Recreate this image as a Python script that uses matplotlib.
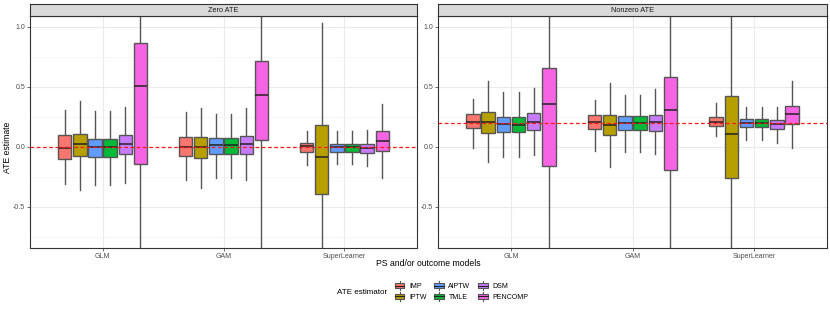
import numpy as np
import matplotlib
matplotlib.use("Agg")
import matplotlib.pyplot as plt
from matplotlib.patches import Patch, Rectangle
from matplotlib.lines import Line2D

plt.rcParams['font.family'] = ['Liberation Sans', 'DejaVu Sans']

models = ["GLM", "GAM", "SuperLearner"]
estimators = ["IMP", "IPTW", "AIPTW", "TMLE", "DSM", "PENCOMP"]
colors = ["#F8766D", "#B79F00", "#619CFF", "#00BA38", "#C77CFF", "#F564E3"]
panels = ["Zero ATE", "Nonzero ATE"]
true_ate = [0.0, 0.2]

# box stats, rows = models, cols = estimators
zero_whislo = [[-0.31, -0.36, -0.32, -0.32, -0.30, -1.5],
               [-0.28, -0.34, -0.26, -0.26, -0.28, -1.5],
               [-0.15, -1.5, -0.14, -0.14, -0.16, -0.26]]
zero_q1 = [[-0.10, -0.075, -0.083, -0.083, -0.06, -0.144],
           [-0.08, -0.09, -0.058, -0.058, -0.064, 0.053],
           [-0.044, -0.397, -0.044, -0.042, -0.05, -0.036]]
zero_med = [[-0.011, 0.02, 0.0, 0.0, 0.025, 0.503],
            [0.0, 0.0, 0.015, 0.014, 0.02, 0.43],
            [0.006, -0.086, -0.005, -0.003, -0.008, 0.044]]
zero_q3 = [[0.095, 0.103, 0.067, 0.067, 0.10, 0.867],
           [0.08, 0.08, 0.075, 0.075, 0.09, 0.71],
           [0.028, 0.18, 0.025, 0.025, 0.025, 0.128]]
zero_whishi = [[0.307, 0.377, 0.30, 0.30, 0.33, 1.5],
               [0.29, 0.32, 0.27, 0.27, 0.325, 1.5],
               [0.13, 1.03, 0.13, 0.13, 0.14, 0.353]]

nonzero_whislo = [[-0.008, -0.125, -0.089, -0.086, -0.072, -1.5],
                  [-0.039, -0.167, -0.042, -0.042, -0.061, -1.5],
                  [0.086, -1.5, 0.058, 0.058, 0.028, -0.014]]
nonzero_q1 = [[0.153, 0.114, 0.12, 0.12, 0.139, -0.164],
              [0.147, 0.094, 0.136, 0.136, 0.131, -0.197],
              [0.172, -0.261, 0.161, 0.161, 0.147, 0.189]]
nonzero_med = [[0.205, 0.203, 0.186, 0.183, 0.208, 0.353],
               [0.205, 0.183, 0.20, 0.20, 0.203, 0.303],
               [0.205, 0.108, 0.20, 0.20, 0.186, 0.27]]
nonzero_q3 = [[0.27, 0.289, 0.25, 0.25, 0.28, 0.656],
              [0.267, 0.264, 0.258, 0.258, 0.267, 0.58],
              [0.25, 0.42, 0.233, 0.233, 0.225, 0.336]]
nonzero_whishi = [[0.397, 0.547, 0.456, 0.456, 0.49, 1.5],
                  [0.39, 0.528, 0.433, 0.433, 0.478, 1.5],
                  [0.364, 1.5, 0.333, 0.333, 0.33, 0.547]]

panel_data = [
    (zero_whislo, zero_q1, zero_med, zero_q3, zero_whishi),
    (nonzero_whislo, nonzero_q1, nonzero_med, nonzero_q3, nonzero_whishi),
]


class BoxKey:
    """legend key that looks like a tiny boxplot (ggplot style)"""
    def legend_artist(self, legend, orig_handle, fontsize, handlebox):
        x0, y0 = -handlebox.xdescent, -handlebox.ydescent
        w, h = handlebox.width, handlebox.height
        fc = orig_handle.get_facecolor()
        bx, bw_ = x0 + w * 0.1, w * 0.8
        by, bh = y0 + h * 0.2, h * 0.6
        tr = handlebox.get_transform()
        arts = [
            Line2D([x0 + w / 2] * 2, [y0, by], color='#555555', lw=0.8, transform=tr),
            Line2D([x0 + w / 2] * 2, [by + bh, y0 + h], color='#555555', lw=0.8, transform=tr),
            Rectangle((bx, by), bw_, bh, facecolor=fc, edgecolor='#555555', lw=0.8, transform=tr),
            Line2D([bx, bx + bw_], [y0 + h / 2] * 2, color='#222222', lw=0.8, transform=tr),
        ]
        for a in arts:
            handlebox.add_artist(a)
        return arts[2]


W, H = 830, 312
fig = plt.figure(figsize=(W / 100, H / 100), dpi=100)

axes_px = [(30, 417), (438, 827)]
top_px, bot_px = 16, 248
strip_top = 4

dodge = 0.75
bw = dodge / 6

for p, (x0, x1) in enumerate(axes_px):
    ax = fig.add_axes([x0 / W, 1 - bot_px / H, (x1 - x0) / W, (bot_px - top_px) / H])
    wlo, q1, med, q3, whi = panel_data[p]
    for i in range(len(models)):
        for j in range(len(estimators)):
            pos = i + 1 + (j - 2.5) * bw
            st = dict(whislo=wlo[i][j], q1=q1[i][j], med=med[i][j],
                      q3=q3[i][j], whishi=whi[i][j], fliers=[])
            bp = ax.bxp([st], positions=[pos], widths=bw * 0.88,
                        patch_artist=True, showcaps=False, manage_ticks=False,
                        boxprops=dict(facecolor=colors[j], edgecolor='#555555', linewidth=1.0),
                        whiskerprops=dict(color='#555555', linewidth=1.0),
                        medianprops=dict(color='#222222', linewidth=1.1))
            for box in bp['boxes']:
                box.set_zorder(3)
            for w in bp['whiskers']:
                w.set_zorder(2)
            for m in bp['medians']:
                m.set_zorder(4)
    ax.axhline(true_ate[p], color='#FF1A1A', ls=(0, (3, 2)), lw=0.9, zorder=5)

    ax.set_xlim(0.4, 3.6)
    ax.set_ylim(-0.844, 1.089)
    ax.set_xticks([1, 2, 3])
    ax.set_xticklabels(models)
    ax.set_yticks([-0.5, 0.0, 0.5, 1.0])
    ax.set_yticklabels(["-0.5", "0.0", "0.5", "1.0"])
    ax.set_yticks([-0.75, -0.25, 0.25, 0.75], minor=True)
    ax.grid(True, which='major', color='#EBEBEB', lw=0.8, zorder=0)
    ax.grid(True, which='minor', axis='y', color='#F3F3F3', lw=0.5, zorder=0)
    ax.set_axisbelow(True)
    ax.tick_params(axis='both', which='major', labelsize=5, colors='#333333',
                   length=2, width=0.5, pad=1.5, labelcolor='#4D4D4D')
    ax.tick_params(axis='y', which='minor', length=0)
    for s in ax.spines.values():
        s.set_color('#333333')
        s.set_linewidth(0.8)

    # strip
    sax = fig.add_axes([x0 / W, 1 - top_px / H, (x1 - x0) / W, (top_px - strip_top) / H])
    sax.set_facecolor('#D9D9D9')
    sax.set_xticks([])
    sax.set_yticks([])
    for s in sax.spines.values():
        s.set_color('#333333')
        s.set_linewidth(0.8)
    sax.text(0.5, 0.5, panels[p], ha='center', va='center', fontsize=5.3, color='#1A1A1A')

fig.text(7 / W, 1 - 147 / H, "ATE estimate", rotation=90, ha='center', va='center', fontsize=6.2)
fig.text(428 / W, 1 - 263 / H, "PS and/or outcome models", ha='center', va='center', fontsize=6.2)

handles = [Patch(facecolor=c) for c in colors]
leg = fig.legend(handles, estimators, ncol=3, loc='center left',
                 bbox_to_anchor=(390 / W, 1 - 291 / H), frameon=False,
                 fontsize=5.0, handlelength=1.75, handleheight=1.65,
                 columnspacing=0.9, labelspacing=0.25, handletextpad=0.5,
                 borderpad=0, handler_map={Patch: BoxKey()})
fig.text(387 / W, 1 - 292 / H, "ATE estimator", ha='right', va='center', fontsize=5.8)

fig.savefig("out.png", dpi=100)
